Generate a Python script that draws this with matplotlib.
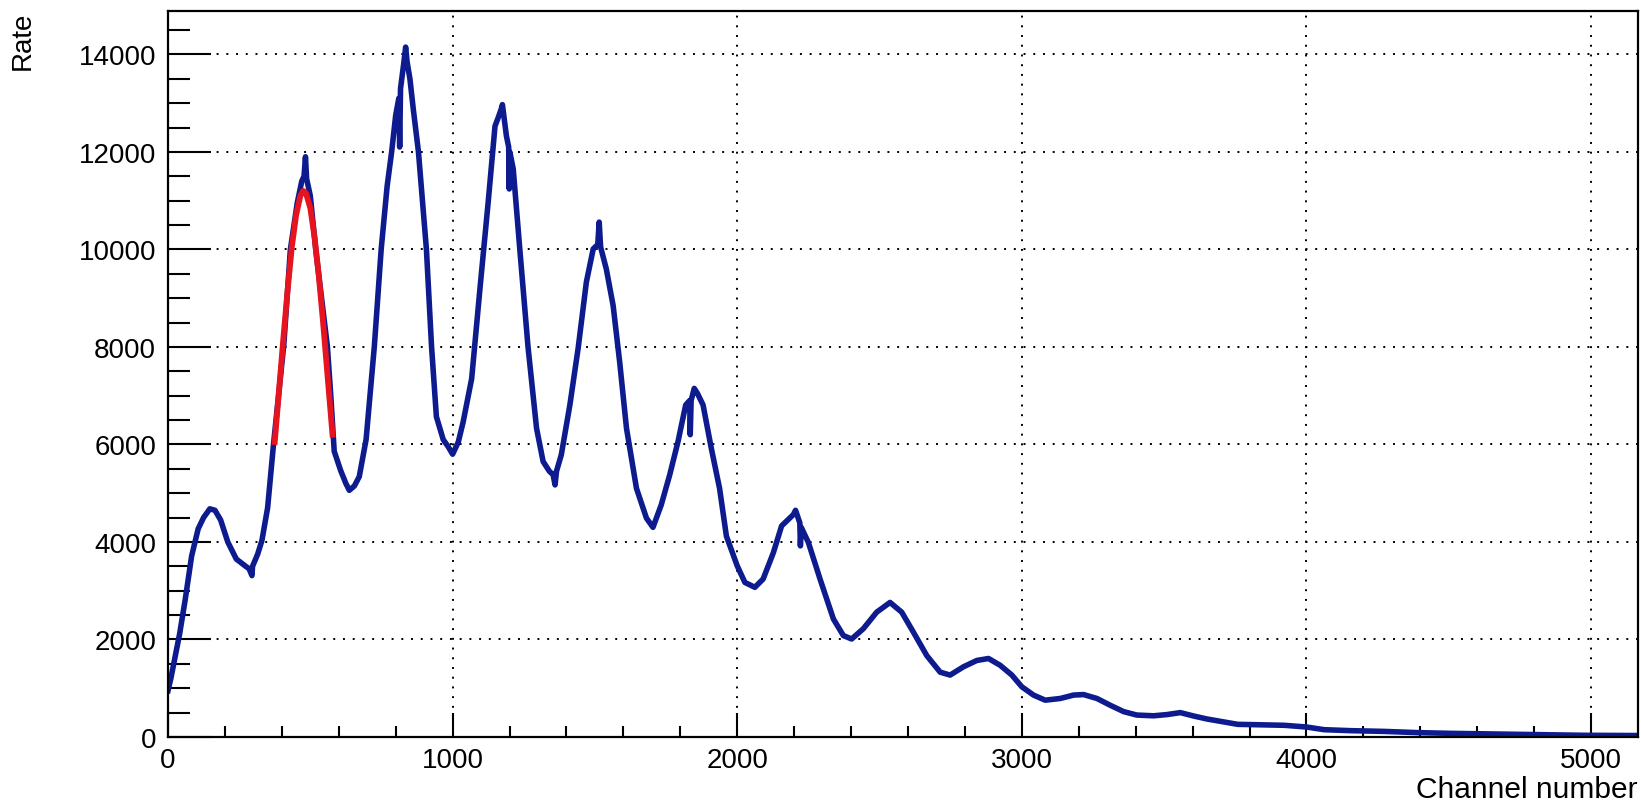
import matplotlib
matplotlib.use('Agg')
import matplotlib.pyplot as plt
from matplotlib.ticker import MultipleLocator

plt.rcParams['font.family'] = ['Liberation Sans', 'DejaVu Sans']

# spectrum (channel, rate); repeated neighbours are the narrow spikes
channel = [0, 10, 25, 41, 60, 83, 106, 125, 147, 165, 185, 210, 240, 271, 285, 295, 297,
           315, 330, 350, 371, 390, 407, 430, 454, 470, 478, 483, 487, 500, 519, 542, 560,
           572, 584, 607, 625, 637, 655, 672, 696, 725, 749, 770, 786, 800, 811, 814, 817,
           828, 835, 840, 850, 862, 880, 908, 926, 943, 967, 985, 1000, 1020, 1037, 1067,
           1096, 1125, 1149, 1160, 1172, 1175, 1189, 1197, 1199, 1201, 1213, 1236, 1265,
           1295, 1318, 1340, 1353, 1360, 1365, 1382, 1412, 1441, 1470, 1494, 1510, 1515,
           1520, 1540, 1564, 1587, 1611, 1646, 1681, 1704, 1733, 1763, 1792, 1819, 1833,
           1835, 1838, 1849, 1860, 1880, 1909, 1938, 1962, 2000, 2027, 2062, 2091, 2127,
           2156, 2197, 2205, 2220, 2222, 2225, 2250, 2291, 2338, 2373, 2402, 2443, 2490,
           2537, 2578, 2619, 2666, 2713, 2748, 2795, 2842, 2883, 2924, 2965, 3000, 3041,
           3082, 3135, 3182, 3217, 3264, 3311, 3358, 3404, 3463, 3510, 3557, 3604, 3650,
           3700, 3758, 3840, 3922, 4000, 4062, 4156, 4272, 4389, 4506, 4623, 4740, 4857,
           4974, 5137, 5165]
rate = [950, 1200, 1650, 2120, 2800, 3710, 4270, 4500, 4680, 4650, 4450, 4000, 3650, 3510,
        3450, 3310, 3500, 3750, 4030, 4700, 6020, 7100, 8050, 10000, 10950, 11400, 11500,
        11900, 11450, 11100, 10000, 8880, 8010, 7000, 5860, 5460, 5200, 5060, 5150, 5340,
        6100, 8010, 10000, 11300, 12010, 12750, 13100, 12100, 13300, 13800, 14150, 13850,
        13500, 12870, 12000, 10000, 8010, 6570, 6100, 5950, 5800, 6050, 6460, 7350, 9190,
        10970, 12530, 12700, 12900, 12970, 12330, 12100, 11240, 12000, 11650, 10010, 8000,
        6330, 5650, 5450, 5380, 5170, 5450, 5790, 6810, 7970, 9330, 10010, 10100, 10560,
        10050, 9600, 8850, 7690, 6330, 5100, 4490, 4300, 4760, 5380, 6060, 6810, 6900,
        6200, 6900, 7150, 7050, 6810, 5920, 5100, 4120, 3510, 3170, 3070, 3240, 3780,
        4330, 4560, 4650, 4390, 3920, 4300, 3990, 3240, 2420, 2080, 2010, 2220, 2560,
        2760, 2560, 2150, 1670, 1330, 1270, 1440, 1570, 1610, 1470, 1270, 1030, 860,
        755, 790, 860, 870, 790, 650, 520, 450, 435, 460, 500, 430, 370,
        320, 260, 250, 240, 205, 150, 130, 115, 90, 75, 65, 55, 45,
        35, 30, 30]

# gaussian fit on the first peak (red)
fit_ch = [375, 390, 405, 420, 435, 450, 465, 475, 485, 500, 515, 530, 545, 560, 578]
fit_rate = [6050, 7100, 8150, 9150, 10050, 10700, 11100, 11200, 11150, 10850, 10250,
            9450, 8500, 7450, 6200]

fig = plt.figure(figsize=(16.41, 8.03), dpi=100)
ax = fig.add_axes([168 / 1641, 1 - 738 / 803, 1470 / 1641, 726 / 803])

ax.plot(channel, rate, color='#0d1b8e', lw=4.0)
ax.plot(fit_ch, fit_rate, color='#e5141e', lw=4.2)

ax.set_xlim(0, 5165)
ax.set_ylim(0, 14890)
ax.xaxis.set_major_locator(MultipleLocator(1000))
ax.xaxis.set_minor_locator(MultipleLocator(200))
ax.yaxis.set_major_locator(MultipleLocator(2000))
ax.yaxis.set_minor_locator(MultipleLocator(500))

ax.grid(True, which='major', color='black', lw=1.4, linestyle=(0, (1, 4)))
ax.set_axisbelow(True)

ax.tick_params(axis='y', which='major', direction='in', length=31, width=1.5,
               labelsize=20, pad=8.5)
ax.tick_params(axis='y', which='minor', direction='in', length=16, width=1.5)
ax.tick_params(axis='x', which='major', direction='in', length=17, width=1.5,
               labelsize=20, pad=7)
ax.tick_params(axis='x', which='minor', direction='in', length=8, width=1.5)
for s in ax.spines.values():
    s.set_linewidth(1.6)

fig.text(23 / 1641, 1 - 12 / 803, 'Rate', rotation=90, ha='center', va='top', fontsize=20)
fig.text(1637 / 1641, 1 - 798 / 803, 'Channel number', ha='right', va='baseline',
         fontsize=21.5)

fig.savefig('out.png', dpi=100)
